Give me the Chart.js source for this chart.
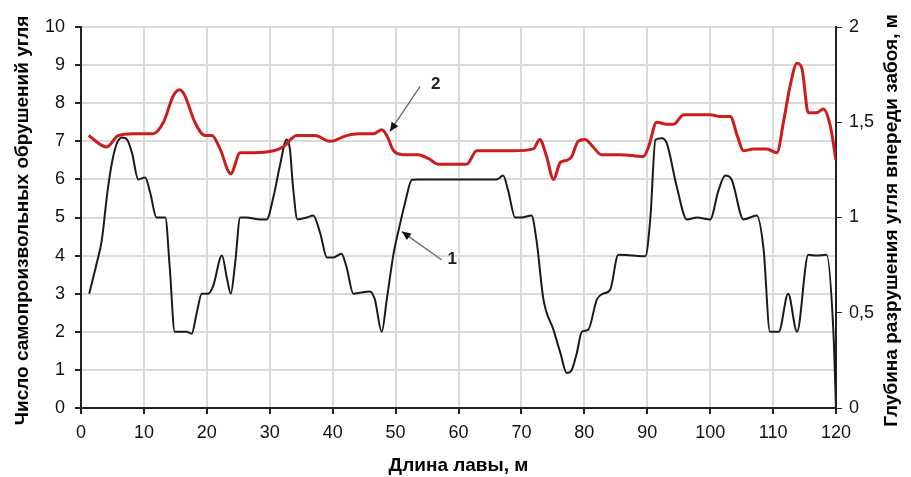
<!DOCTYPE html>
<html lang="ru">
<head>
<meta charset="UTF-8">
<title>Длина лавы</title>
<script src="https://cdn.jsdelivr.net/npm/chart.js"></script>
<style>
    body { margin: 0; background: #fff; }
    canvas { display: block; }
</style>
</head>
<body>
<canvas id="chart" width="911" height="477"></canvas>
<script>
// curve 1 - число обрушений (left axis)
const blackX = [1.3, 2.5, 3.3, 4.3, 5.4, 6.5, 7.3, 8.1, 9.1, 10.2, 11.0, 12.0, 13.4, 14.1, 14.9, 15.7, 16.8, 17.6, 18.4, 19.2,
    20.2, 21.0, 22.4, 23.2, 23.8, 24.5, 25.3, 26.3, 28.5, 29.5, 30.6, 31.6, 32.7, 33.2, 33.7, 34.4, 35.9, 36.9, 38.0, 39.1,
    40.1, 41.4, 42.2, 43.3, 45.9, 46.7, 47.8, 48.6, 49.7, 50.5, 51.5, 52.6, 53.6, 66.1, 67.1, 67.9, 69.0, 70.0, 71.6, 72.4,
    73.5, 75.1, 76.2, 77.2, 78.0, 78.8, 79.6, 80.6, 82.0, 83.0, 84.1, 85.4, 87.8, 89.7, 90.5, 91.3, 92.3, 93.1, 94.7, 96.3,
    97.9, 100.0, 101.3, 102.4, 103.4, 105.3, 107.4, 108.5, 109.5, 110.9, 112.4, 113.8, 115.6, 116.9, 118.5, 119.6, 120.0];
const blackY = [3.0, 3.8, 4.4, 5.8, 6.8, 7.1, 7.05, 6.7, 6.0, 6.05, 5.65, 5.0, 5.0, 3.7, 2.0, 2.0, 2.0, 1.95, 2.5, 3.0,
    3.0, 3.2, 4.0, 3.4, 3.0, 3.8, 5.0, 5.0, 4.95, 4.95, 5.55, 6.35, 7.05, 6.8, 5.8, 4.95, 5.0, 5.05, 4.6, 3.95,
    3.95, 4.05, 3.7, 3.0, 3.06, 2.85, 2.0, 2.85, 4.07, 4.68, 5.38, 5.99, 6.0, 6.0, 6.1, 5.7, 5.0, 5.0, 5.05, 4.4,
    2.85, 2.05, 1.44, 0.92, 1.0, 1.44, 2.0, 2.05, 2.85, 3.0, 3.1, 4.02, 4.0, 3.98, 5.0, 7.04, 7.08, 6.95, 5.8, 4.95,
    5.0, 4.95, 5.7, 6.1, 6.0, 4.95, 5.05, 4.15, 2.0, 2.0, 3.0, 2.0, 4.02, 4.0, 4.02, 1.95, 0];

// curve 2 - глубина разрушения, м (right axis)
const redX = [1.2, 4.1, 5.9, 8.3, 11.5, 13.1, 14.7, 15.7, 16.5, 18.1, 19.7, 20.8, 22.1, 23.8, 25.3, 27.4, 30.6, 32.1, 34.3, 37.2,
    39.6, 42.2, 44.1, 46.5, 47.8, 48.6, 49.7, 51.2, 53.6, 55.2, 56.8, 59.2, 61.3, 62.9, 65.0, 68.7, 71.9, 72.9, 74.0, 75.1,
    76.2, 77.2, 78.0, 79.0, 80.1, 81.4, 82.7, 85.7, 89.4, 90.2, 91.5, 93.1, 94.2, 95.8, 97.9, 100.0, 101.6, 103.2, 104.3, 105.3,
    106.9, 109.0, 110.6, 111.7, 112.7, 113.8, 114.6, 115.6, 116.9, 118.0, 119.1, 120.0];
const redY = [1.43, 1.37, 1.43, 1.44, 1.44, 1.50, 1.64, 1.67, 1.64, 1.50, 1.43, 1.43, 1.36, 1.23, 1.34, 1.34, 1.35, 1.37, 1.43, 1.43,
    1.40, 1.43, 1.44, 1.44, 1.46, 1.43, 1.35, 1.33, 1.33, 1.31, 1.28, 1.28, 1.28, 1.35, 1.35, 1.35, 1.36, 1.41, 1.32, 1.20,
    1.29, 1.30, 1.32, 1.40, 1.41, 1.37, 1.33, 1.33, 1.32, 1.37, 1.50, 1.49, 1.49, 1.54, 1.54, 1.54, 1.53, 1.53, 1.43, 1.35,
    1.36, 1.36, 1.34, 1.51, 1.69, 1.81, 1.78, 1.55, 1.55, 1.57, 1.48, 1.30];

const rightTickLabels = ['0', '0,5', '1', '1,5', '2'];

// callouts: label, arrow tip (x, y on left axis), arrow tail, label position
const callouts = [
    { text: '2', tip: [49.1, 7.26], tail: [53.9, 8.44], at: [56.4, 8.5] },
    { text: '1', tip: [51.0, 4.63], tail: [57.3, 3.89], at: [59.0, 3.89] }
];

const leftTitle = 'Число самопроизвольных обрушений угля';
const rightTitle = 'Глубина разрушения угля впереди забоя, м';
const xTitle = 'Длина лавы, м';

const FONT = '"Liberation Sans", Arial, sans-serif';

function toPoints(xs, ys) {
    return xs.map((x, i) => ({ x: x, y: ys[i] }));
}

const calloutPlugin = {
    id: 'callouts',
    afterDatasetsDraw(chart) {
        const ctx = chart.ctx;
        const sx = chart.scales.x, sy = chart.scales.y;
        ctx.save();
        callouts.forEach(c => {
            const x0 = sx.getPixelForValue(c.tail[0]), y0 = sy.getPixelForValue(c.tail[1]);
            const x1 = sx.getPixelForValue(c.tip[0]), y1 = sy.getPixelForValue(c.tip[1]);
            ctx.strokeStyle = '#666';
            ctx.lineWidth = 1.3;
            ctx.beginPath();
            ctx.moveTo(x0, y0);
            ctx.lineTo(x1, y1);
            ctx.stroke();
            // arrow head
            const a = Math.atan2(y1 - y0, x1 - x0);
            const L = 9, W = 4;
            ctx.fillStyle = '#111';
            ctx.beginPath();
            ctx.moveTo(x1, y1);
            ctx.lineTo(x1 - L * Math.cos(a) + W * Math.sin(a), y1 - L * Math.sin(a) - W * Math.cos(a));
            ctx.lineTo(x1 - L * Math.cos(a) - W * Math.sin(a), y1 - L * Math.sin(a) + W * Math.cos(a));
            ctx.closePath();
            ctx.fill();
            ctx.fillStyle = '#222';
            ctx.font = 'bold 17px ' + FONT;
            ctx.textAlign = 'center';
            ctx.textBaseline = 'middle';
            ctx.fillText(c.text, sx.getPixelForValue(c.at[0]), sy.getPixelForValue(c.at[1]));
        });
        ctx.restore();
    }
};

// both side titles read bottom-to-top
const sideTitlePlugin = {
    id: 'sideTitles',
    afterDraw(chart) {
        const ctx = chart.ctx;
        const area = chart.chartArea;
        const cy = (area.top + area.bottom) / 2 + 3;
        ctx.save();
        ctx.font = 'bold 19px ' + FONT;
        ctx.fillStyle = '#000';
        ctx.textAlign = 'center';
        ctx.textBaseline = 'middle';
        [[23, leftTitle], [892, rightTitle]].forEach(([x, t]) => {
            ctx.save();
            ctx.translate(x, cy);
            ctx.rotate(-Math.PI / 2);
            ctx.fillText(t, 0, 0);
            ctx.restore();
        });
        ctx.restore();
    }
};

const tickFont = { family: FONT, size: 18 };

new Chart(document.getElementById('chart').getContext('2d'), {
    type: 'line',
    data: {
        datasets: [{
            label: '1',
            data: toPoints(blackX, blackY),
            yAxisID: 'y',
            borderColor: '#1a1a1a',
            borderWidth: 2,
            pointRadius: 0,
            cubicInterpolationMode: 'monotone',
            order: 2
        }, {
            label: '2',
            data: toPoints(redX, redY),
            yAxisID: 'y1',
            borderColor: '#cc1d1d',
            borderWidth: 3,
            pointRadius: 0,
            cubicInterpolationMode: 'monotone',
            order: 1
        }]
    },
    options: {
        responsive: false,
        animation: false,
        layout: { padding: { top: 27, left: 0, right: 0, bottom: 0 } },
        plugins: { legend: { display: false }, tooltip: { enabled: false } },
        scales: {
            x: {
                type: 'linear',
                min: 0, max: 120,
                afterFit: s => { s.height = 69; },
                ticks: { stepSize: 10, color: '#111', font: tickFont, padding: 8, maxRotation: 0 },
                grid: { color: '#dadada', lineWidth: 2, tickColor: '#222', tickLength: 6 },
                border: { color: '#222', width: 2 },
                title: { display: true, text: xTitle, color: '#000', font: { family: FONT, size: 19, weight: 'bold' }, padding: { top: 0, bottom: 0 } }
            },
            y: {
                position: 'left',
                min: 0, max: 10,
                afterFit: s => { s.width = 81; },
                ticks: { stepSize: 1, color: '#111', font: tickFont, padding: 10 },
                grid: { color: '#dadada', lineWidth: 2, tickColor: '#222', tickLength: 6 },
                border: { color: '#222', width: 2 }
            },
            y1: {
                position: 'right',
                min: 0, max: 2,
                afterFit: s => { s.width = 75; },
                ticks: {
                    stepSize: 0.5, color: '#111', font: tickFont, padding: 7,
                    callback: (v, i) => rightTickLabels[i]
                },
                grid: { drawOnChartArea: false, tickColor: '#222', tickLength: 6 },
                border: { color: '#222', width: 2 }
            }
        }
    },
    plugins: [calloutPlugin, sideTitlePlugin]
});
</script>
</body>
</html>
